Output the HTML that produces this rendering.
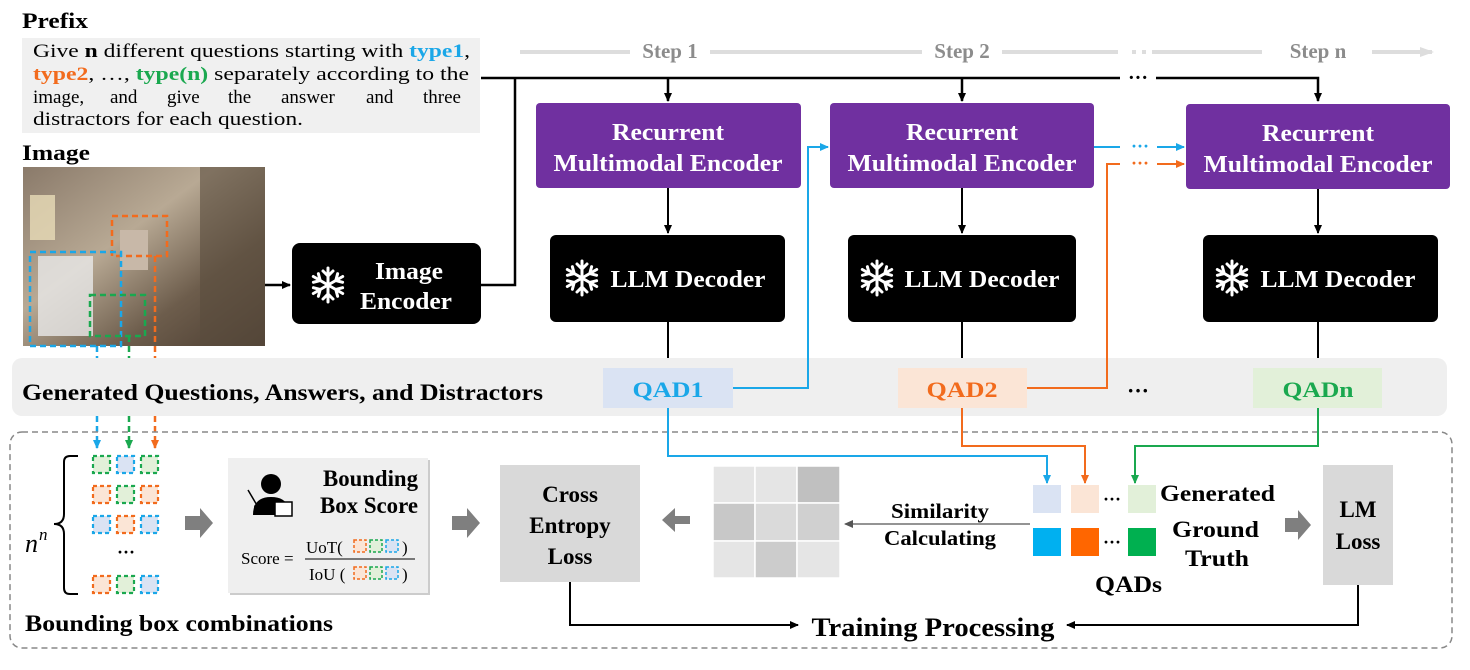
<!DOCTYPE html>
<html><head><meta charset="utf-8"><style>
html,body{margin:0;padding:0;background:#fff;width:1470px;height:670px;overflow:hidden}
svg{display:block;font-family:"Liberation Serif",serif}
.b{font-weight:bold}
</style></head><body>
<svg width="1470" height="670" viewBox="0 0 1470 670" xmlns="http://www.w3.org/2000/svg">
<defs>
<marker id="ak" markerWidth="10" markerHeight="10" refX="8" refY="5" orient="auto" markerUnits="userSpaceOnUse"><path d="M0,1 L9,5 L0,9 Z" fill="#000"/></marker>
<marker id="ab" markerWidth="10" markerHeight="10" refX="8" refY="5" orient="auto" markerUnits="userSpaceOnUse"><path d="M0,1 L9,5 L0,9 Z" fill="#1aa7e8"/></marker>
<marker id="ao" markerWidth="10" markerHeight="10" refX="8" refY="5" orient="auto" markerUnits="userSpaceOnUse"><path d="M0,1 L9,5 L0,9 Z" fill="#f26b1d"/></marker>
<marker id="ag" markerWidth="10" markerHeight="10" refX="8" refY="5" orient="auto" markerUnits="userSpaceOnUse"><path d="M0,1 L9,5 L0,9 Z" fill="#1aa84f"/></marker>
<marker id="agr" markerWidth="10" markerHeight="10" refX="8" refY="5" orient="auto" markerUnits="userSpaceOnUse"><path d="M0,1 L9,5 L0,9 Z" fill="#555"/></marker>
<marker id="alg" markerWidth="16" markerHeight="14" refX="12" refY="7" orient="auto" markerUnits="userSpaceOnUse"><path d="M0,2 L14,7 L0,12 Z" fill="#ddd"/></marker>
<linearGradient id="img" x1="0" y1="0" x2="1" y2="1"><stop offset="0" stop-color="#8a7a6a"/><stop offset="0.4" stop-color="#b8a994"/><stop offset="0.7" stop-color="#6d5d4c"/><stop offset="1" stop-color="#4a3c30"/></linearGradient>
<g id="snow" stroke="#fff" stroke-width="3" stroke-linecap="round" fill="none">
<path d="M0,-17 V17 M-14.7,-8.5 L14.7,8.5 M-14.7,8.5 L14.7,-8.5"/>
<path d="M-5,-14 L0,-9 L5,-14 M-5,14 L0,9 L5,14 M-14.6,-2.7 L-7.8,-4.5 L-9.6,-11.3 M14.6,2.7 L7.8,4.5 L9.6,11.3 M-14.6,2.7 L-7.8,4.5 L-9.6,11.3 M14.6,-2.7 L7.8,-4.5 L9.6,-11.3"/>
</g>
</defs>

<text x="22" y="28" class="b" font-size="22" textLength="66" lengthAdjust="spacingAndGlyphs">Prefix</text>
<rect x="22" y="38" width="458" height="95" fill="#f0f0f0"/>
<g font-size="19">
<text x="33" y="57" textLength="437" lengthAdjust="spacingAndGlyphs">Give <tspan class="b">n</tspan> different questions starting with <tspan class="b" fill="#1aa7e8">type1</tspan>,</text>
<text x="33" y="80" textLength="436" lengthAdjust="spacingAndGlyphs"><tspan class="b" fill="#f26b1d">type2</tspan>, …, <tspan class="b" fill="#1aa84f">type(n)</tspan> separately according to the</text>
<text y="103"><tspan x="33">image,</tspan><tspan x="110">and</tspan><tspan x="167">give</tspan><tspan x="228">the</tspan><tspan x="281">answer</tspan><tspan x="366">and</tspan><tspan x="423">three</tspan></text>
<text x="33" y="125" textLength="270" lengthAdjust="spacingAndGlyphs">distractors for each question.</text>
</g>
<text x="22" y="160" class="b" font-size="22" textLength="68" lengthAdjust="spacingAndGlyphs">Image</text>
<rect x="23" y="167" width="242" height="179" fill="url(#img)"/>
<rect x="200" y="167" width="65" height="179" fill="#5a4d3e" opacity="0.6"/>
<rect x="30" y="195" width="25" height="45" fill="#e8dcb8" opacity="0.8"/>
<rect x="38" y="256" width="55" height="80" fill="#e8e8e8" opacity="0.8"/>
<rect x="120" y="230" width="28" height="40" fill="#c8b8a8"/>
<g fill="none" stroke-width="2.5" stroke-dasharray="6,4">
<rect x="112" y="216" width="55" height="40" stroke="#f26b1d"/>
<rect x="30" y="252" width="91" height="94" stroke="#1aa7e8"/>
<rect x="90" y="295" width="55" height="41" stroke="#1aa84f"/>
<path d="M97,346 V448" stroke="#1aa7e8" marker-end="url(#ab)"/>
<path d="M129,336 V448" stroke="#1aa84f" marker-end="url(#ag)"/>
<path d="M155,256 V448" stroke="#f26b1d" marker-end="url(#ao)"/>
</g>

<g stroke="#ddd" stroke-width="4">
<line x1="520" y1="52" x2="630" y2="52"/><line x1="710" y1="52" x2="922" y2="52"/>
<line x1="1002" y1="52" x2="1118" y2="52"/><line x1="1132" y1="52" x2="1136" y2="52"/><line x1="1142" y1="52" x2="1146" y2="52"/>
<line x1="1152" y1="52" x2="1262" y2="52"/><line x1="1372" y1="52" x2="1432" y2="52" marker-end="url(#alg)"/>
</g>
<g fill="#8c8c8c" class="b" font-size="21" text-anchor="middle">
<text x="670" y="58">Step 1</text><text x="962" y="58">Step 2</text><text x="1318" y="58">Step n</text>
</g>

<g stroke="#000" stroke-width="2.5" fill="none">
<path d="M481,78 H1120"/><path d="M1156,78 H1318 V101" marker-end="url(#ak)"/>
<path d="M668,78 V101" marker-end="url(#ak)"/><path d="M962,78 V101" marker-end="url(#ak)"/>
<path d="M481,285 H515 V78"/>
<path d="M265,285 H290" marker-end="url(#ak)"/>
</g>
<text x="1138" y="84" class="b" font-size="20" text-anchor="middle">···</text>

<g fill="#7030a0">
<rect x="536" y="103" width="265" height="85" rx="4"/>
<rect x="830" y="103" width="264" height="85" rx="4"/>
<rect x="1186" y="104" width="264" height="85" rx="4"/>
</g>
<g fill="#fff" class="b" font-size="24" text-anchor="middle">
<text x="668" y="140" textLength="112" lengthAdjust="spacingAndGlyphs">Recurrent</text><text x="668" y="171" textLength="229" lengthAdjust="spacingAndGlyphs">Multimodal Encoder</text>
<text x="962" y="140" textLength="112" lengthAdjust="spacingAndGlyphs">Recurrent</text><text x="962" y="171" textLength="229" lengthAdjust="spacingAndGlyphs">Multimodal Encoder</text>
<text x="1318" y="141" textLength="112" lengthAdjust="spacingAndGlyphs">Recurrent</text><text x="1318" y="172" textLength="229" lengthAdjust="spacingAndGlyphs">Multimodal Encoder</text>
</g>

<g fill="#000">
<rect x="292" y="243" width="189" height="81" rx="8"/>
<rect x="550" y="235" width="235" height="87" rx="6"/>
<rect x="848" y="235" width="228" height="87" rx="6"/>
<rect x="1203" y="235" width="235" height="87" rx="6"/>
</g>
<use href="#snow" x="328" y="285"/><use href="#snow" x="582" y="278"/><use href="#snow" x="877" y="278"/><use href="#snow" x="1232" y="278"/>
<g fill="#fff" class="b" font-size="24" text-anchor="middle">
<text x="409" y="279" textLength="68" lengthAdjust="spacingAndGlyphs">Image</text><text x="406" y="309" textLength="92" lengthAdjust="spacingAndGlyphs">Encoder</text>
<text x="688" y="287" textLength="155" lengthAdjust="spacingAndGlyphs">LLM Decoder</text><text x="982" y="287" textLength="155" lengthAdjust="spacingAndGlyphs">LLM Decoder</text><text x="1338" y="287" textLength="155" lengthAdjust="spacingAndGlyphs">LLM Decoder</text>
</g>
<g stroke="#000" stroke-width="2" fill="none">
<path d="M668,188 V233" marker-end="url(#ak)"/><path d="M962,188 V233" marker-end="url(#ak)"/><path d="M1318,189 V233" marker-end="url(#ak)"/>
<path d="M668,322 V366" marker-end="url(#ak)"/><path d="M962,322 V366" marker-end="url(#ak)"/><path d="M1318,322 V366" marker-end="url(#ak)"/>
</g>

<rect x="12" y="358" width="1435" height="58" rx="10" fill="#efefef"/>
<text x="22" y="400" class="b" font-size="23" textLength="521" lengthAdjust="spacingAndGlyphs">Generated Questions, Answers, and Distractors</text>
<rect x="603" y="368" width="130" height="40" fill="#dae3f3"/>
<rect x="898" y="368" width="129" height="40" fill="#fbe5d6"/>
<rect x="1253" y="368" width="129" height="40" fill="#e2f0d9"/>
<g class="b" font-size="22" text-anchor="middle">
<text x="668" y="397" fill="#1aa7e8" textLength="71" lengthAdjust="spacingAndGlyphs">QAD1</text><text x="962" y="397" fill="#f26b1d" textLength="71" lengthAdjust="spacingAndGlyphs">QAD2</text><text x="1318" y="397" fill="#1aa84f" textLength="71" lengthAdjust="spacingAndGlyphs">QADn</text>
<text x="1138" y="398" fill="#000">···</text>
</g>

<g fill="none" stroke-width="2">
<path d="M733,388 H808 V147 H828" stroke="#1aa7e8" marker-end="url(#ab)"/>
<path d="M1094,147 H1120" stroke="#1aa7e8"/><path d="M1157,147 H1184" stroke="#1aa7e8" marker-end="url(#ab)"/>
<path d="M1027,388 H1107 V164 H1120" stroke="#f26b1d"/><path d="M1157,164 H1184" stroke="#f26b1d" marker-end="url(#ao)"/>
</g>
<text x="1140" y="152" class="b" font-size="18" text-anchor="middle" fill="#1aa7e8">···</text>
<text x="1140" y="169" class="b" font-size="18" text-anchor="middle" fill="#f26b1d">···</text>

<rect x="10" y="432" width="1442" height="216" rx="12" fill="none" stroke="#888" stroke-width="1.5" stroke-dasharray="6,4"/>

<g fill="none" stroke-width="2">
<path d="M668,408 V456 H1047 V483" stroke="#1aa7e8" marker-end="url(#ab)"/>
<path d="M962,408 V446 H1085 V483" stroke="#f26b1d" marker-end="url(#ao)"/>
<path d="M1318,408 V446 H1135 V483" stroke="#1aa84f" marker-end="url(#ag)"/>
</g>

<text x="25" y="552" font-size="26" font-style="italic">n</text><text x="39" y="540" font-size="17" font-style="italic">n</text>
<path d="M78,456 H70 Q64,456 64,462 V514 Q64,524 54,524 Q64,524 64,534 V588 Q64,594 70,594 H78" fill="none" stroke="#000" stroke-width="2"/>
<g stroke-width="2.2" stroke-dasharray="4,3">
<g transform="translate(93,456)">
<rect x="0" y="0" width="17" height="17" fill="#e2f0d9" stroke="#1aa84f"/><rect x="24" y="0" width="17" height="17" fill="#dae3f3" stroke="#1aa7e8"/><rect x="48" y="0" width="17" height="17" fill="#e2f0d9" stroke="#1aa84f"/>
<rect x="0" y="30" width="17" height="17" fill="#fbe5d6" stroke="#f26b1d"/><rect x="24" y="30" width="17" height="17" fill="#e2f0d9" stroke="#1aa84f"/><rect x="48" y="30" width="17" height="17" fill="#fbe5d6" stroke="#f26b1d"/>
<rect x="0" y="60" width="17" height="17" fill="#dae3f3" stroke="#1aa7e8"/><rect x="24" y="60" width="17" height="17" fill="#fbe5d6" stroke="#f26b1d"/><rect x="48" y="60" width="17" height="17" fill="#dae3f3" stroke="#1aa7e8"/>
<rect x="0" y="120" width="17" height="17" fill="#fbe5d6" stroke="#f26b1d"/><rect x="24" y="120" width="17" height="17" fill="#e2f0d9" stroke="#1aa84f"/><rect x="48" y="120" width="17" height="17" fill="#dae3f3" stroke="#1aa7e8"/>
</g></g>
<text x="126" y="558" class="b" font-size="18" text-anchor="middle">···</text>
<text x="25" y="631" class="b" font-size="23" textLength="308" lengthAdjust="spacingAndGlyphs">Bounding box combinations</text>

<g fill="#7f7f7f">
<path d="M185,516 H200 V508 L213,523 L200,538 V530 H185 Z"/>
<path d="M452,516 H467 V508 L480,523 L467,538 V530 H452 Z"/>
<path d="M690,516 H675 V508 L662,520 L675,532 V524 H690 Z"/>
<path d="M1285,518 H1298 V510 L1311,525 L1298,540 V532 H1285 Z"/>
</g>

<rect x="230" y="460" width="200" height="135" fill="#ccc"/>
<rect x="228" y="458" width="200" height="135" fill="#efefef"/>
<circle cx="271" cy="484" r="10" fill="#000"/>
<path d="M253,515 Q253,497 271,497 Q285,497 288,507 V515 Z" fill="#000"/>
<line x1="248" y1="490" x2="258" y2="507" stroke="#000" stroke-width="1.5"/><circle cx="257" cy="507" r="3" fill="#000"/>
<rect x="275" y="502" width="17" height="14" fill="#fff" stroke="#000" stroke-width="1.5"/>
<text x="418" y="486" class="b" font-size="23" text-anchor="end" textLength="95" lengthAdjust="spacingAndGlyphs">Bounding</text>
<text x="418" y="513" class="b" font-size="23" text-anchor="end" textLength="98" lengthAdjust="spacingAndGlyphs">Box Score</text>
<text x="241" y="564" font-size="17">Score =</text>
<text x="306" y="553" font-size="17">UoT(</text>
<text x="309" y="580" font-size="17">IoU (</text>
<line x1="305" y1="559" x2="415" y2="559" stroke="#000" stroke-width="1"/>
<g stroke-width="1.5" stroke-dasharray="3,2">
<rect x="354" y="540" width="12" height="12" fill="#fbe5d6" stroke="#f26b1d"/><rect x="370" y="540" width="12" height="12" fill="#e2f0d9" stroke="#1aa84f"/><rect x="386" y="540" width="12" height="12" fill="#dae3f3" stroke="#1aa7e8"/>
<rect x="354" y="567" width="12" height="12" fill="#fbe5d6" stroke="#f26b1d"/><rect x="370" y="567" width="12" height="12" fill="#e2f0d9" stroke="#1aa84f"/><rect x="386" y="567" width="12" height="12" fill="#dae3f3" stroke="#1aa7e8"/>
</g>
<text x="402" y="553" font-size="17">)</text><text x="402" y="580" font-size="17">)</text>

<rect x="500" y="465" width="140" height="117" fill="#d9d9d9"/>
<g class="b" font-size="23" text-anchor="middle"><text x="570" y="502">Cross</text><text x="570" y="533">Entropy</text><text x="570" y="564">Loss</text></g>

<g stroke="#fff" stroke-width="1.5">
<rect x="713" y="466" width="42" height="37" fill="#e5e5e5"/><rect x="755" y="466" width="42" height="37" fill="#e5e5e5"/><rect x="797" y="466" width="43" height="37" fill="#c0c0c0"/>
<rect x="713" y="503" width="42" height="38" fill="#c8c8c8"/><rect x="755" y="503" width="42" height="38" fill="#dadada"/><rect x="797" y="503" width="43" height="38" fill="#d0d0d0"/>
<rect x="713" y="541" width="42" height="37" fill="#e5e5e5"/><rect x="755" y="541" width="42" height="37" fill="#cccccc"/><rect x="797" y="541" width="43" height="37" fill="#e5e5e5"/>
</g>
<path d="M1030,524 H845" stroke="#555" stroke-width="1.2" marker-end="url(#agr)"/>
<g class="b" font-size="21" text-anchor="middle"><text x="940" y="518" textLength="98" lengthAdjust="spacingAndGlyphs">Similarity</text><text x="940" y="545" textLength="112" lengthAdjust="spacingAndGlyphs">Calculating</text></g>

<rect x="1033" y="485" width="28" height="28" fill="#dae3f3"/><rect x="1071" y="485" width="28" height="28" fill="#fbe5d6"/><rect x="1128" y="485" width="28" height="28" fill="#e2f0d9"/>
<rect x="1033" y="528" width="28" height="28" fill="#00b0f0"/><rect x="1071" y="528" width="28" height="28" fill="#ff6600"/><rect x="1128" y="528" width="28" height="28" fill="#00b050"/>
<g class="b" font-size="18"><text x="1103" y="505">···</text><text x="1103" y="548">···</text></g>
<g class="b" font-size="23">
<text x="1160" y="501" textLength="115" lengthAdjust="spacingAndGlyphs">Generated</text><text x="1172" y="537" textLength="87" lengthAdjust="spacingAndGlyphs">Ground</text><text x="1185" y="566" textLength="64" lengthAdjust="spacingAndGlyphs">Truth</text><text x="1095" y="592" textLength="67" lengthAdjust="spacingAndGlyphs">QADs</text>
</g>

<rect x="1323" y="465" width="70" height="120" fill="#d9d9d9"/>
<g class="b" font-size="23" text-anchor="middle"><text x="1358" y="517">LM</text><text x="1358" y="549">Loss</text></g>

<g stroke="#000" stroke-width="2" fill="none">
<path d="M570,582 V625 H798" marker-end="url(#ak)"/>
<path d="M1358,585 V625 H1067" marker-end="url(#ak)"/>
</g>
<text x="933" y="636" class="b" font-size="26" text-anchor="middle" textLength="243" lengthAdjust="spacingAndGlyphs">Training Processing</text>
</svg>
</body></html>
